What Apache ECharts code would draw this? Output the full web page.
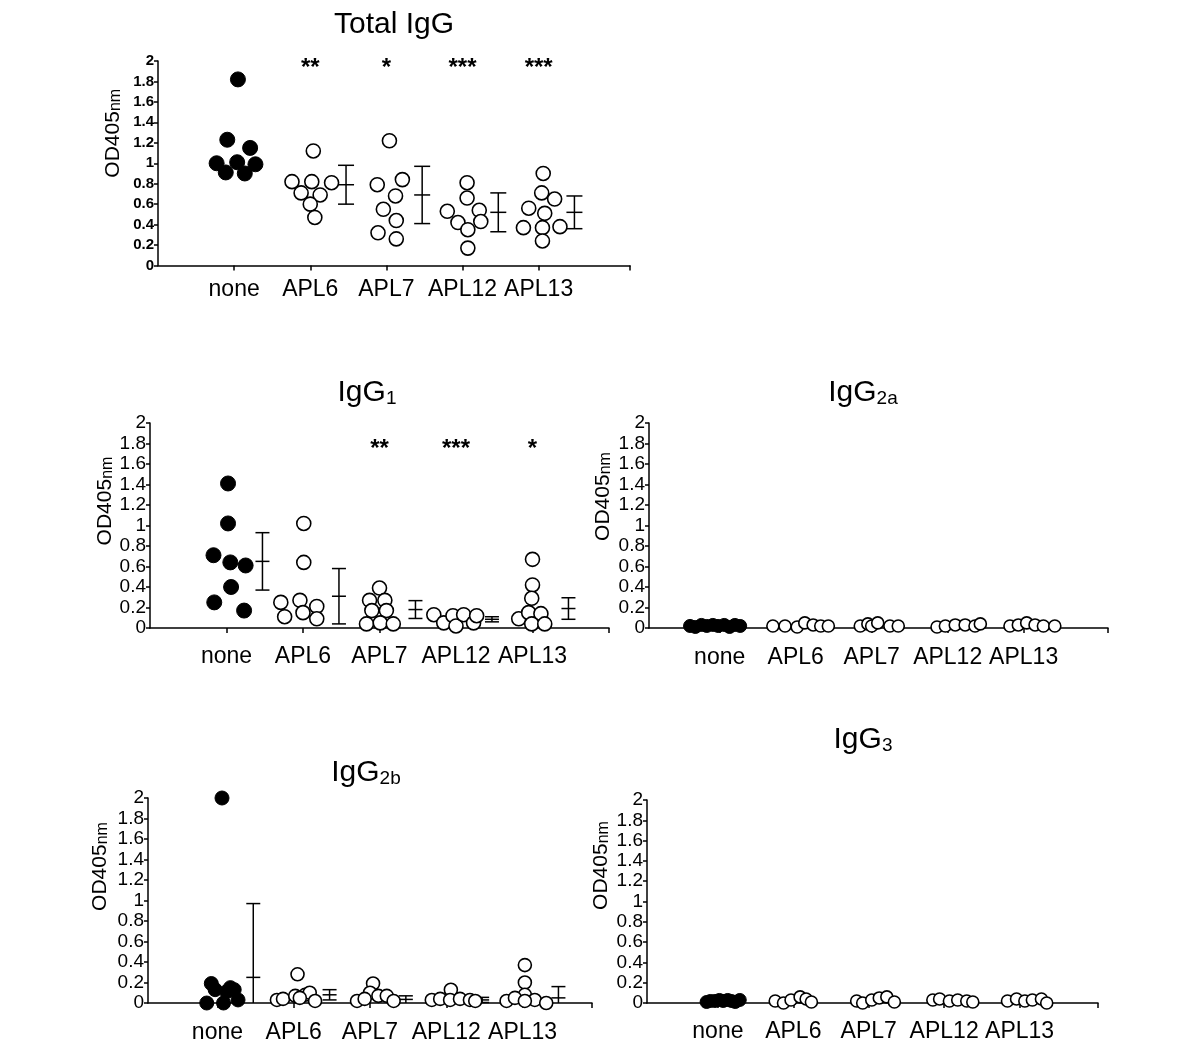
<!DOCTYPE html>
<html>
<head>
<meta charset="utf-8">
<title>IgG responses</title>
<script src="https://cdn.jsdelivr.net/npm/echarts@6/dist/echarts.min.js"></script>
<style>
  html, body { margin: 0; padding: 0; background: #fff; }
  #chart-panel { width: 1200px; height: 1050px; }
</style>
</head>
<body>
<div id="chart-panel"></div>
<script>
const categories = ["none", "APL6", "APL7", "APL12", "APL13"]

// OD405 per mouse, one inner array per group (none, APL6, APL7, APL12, APL13)
// jitter = horizontal spread of the dots inside a group, in category units
const totalValues = [
  [1.82, 1.23, 1.15, 1.0, 1.01, 0.99, 0.91, 0.9],
  [1.12, 0.82, 0.82, 0.81, 0.71, 0.69, 0.6, 0.47],
  [1.22, 0.79, 0.84, 0.68, 0.55, 0.44, 0.32, 0.26],
  [0.81, 0.66, 0.53, 0.54, 0.42, 0.43, 0.35, 0.17],
  [0.9, 0.71, 0.65, 0.56, 0.51, 0.37, 0.37, 0.38, 0.24]
]
const totalJitter = [
  [0.05, -0.09, 0.21, -0.23, 0.04, 0.28, -0.11, 0.14],
  [0.04, -0.24, 0.02, 0.28, -0.12, 0.13, 0.0, 0.06],
  [0.04, -0.12, 0.21, 0.12, -0.04, 0.13, -0.11, 0.13],
  [0.06, 0.06, -0.2, 0.22, -0.06, 0.24, 0.07, 0.07],
  [0.06, 0.04, 0.21, -0.13, 0.08, -0.2, 0.05, 0.28, 0.05]
]
const totalMean = [null, 0.79, 0.69, 0.52, 0.52]
const totalSd = [null, 0.19, 0.28, 0.19, 0.16]
const totalStars = ["", "**", "*", "***", "***"]

const igg1Values = [
  [1.41, 1.02, 0.71, 0.64, 0.61, 0.4, 0.25, 0.17],
  [1.02, 0.64, 0.25, 0.27, 0.11, 0.15, 0.21, 0.09],
  [0.39, 0.27, 0.27, 0.17, 0.17, 0.04, 0.05, 0.04],
  [0.13, 0.05, 0.12, 0.02, 0.13, 0.05, 0.12],
  [0.67, 0.42, 0.29, 0.09, 0.15, 0.14, 0.04, 0.04]
]
const igg1Jitter = [
  [0.02, 0.02, -0.17, 0.05, 0.25, 0.06, -0.16, 0.23],
  [0.01, 0.01, -0.29, -0.04, -0.24, 0.0, 0.18, 0.18],
  [0.0, -0.13, 0.07, -0.1, 0.09, -0.17, 0.01, 0.18],
  [-0.29, -0.16, -0.04, 0.0, 0.1, 0.23, 0.27],
  [0.0, 0.0, -0.01, -0.18, -0.05, 0.11, -0.01, 0.16]
]
const igg1Mean = [0.65, 0.31, 0.18, 0.085, 0.19]
const igg1Sd = [0.28, 0.27, 0.087, 0.025, 0.105]
const igg1Stars = ["", "", "**", "***", "*"]

const igg2aValues = [
  [0.02, 0.01, 0.03, 0.02, 0.03, 0.02, 0.03, 0.01, 0.03, 0.02],
  [0.02, 0.02, 0.01, 0.05, 0.03, 0.02, 0.02],
  [0.02, 0.04, 0.02, 0.05, 0.02, 0.02],
  [0.01, 0.02, 0.03, 0.03, 0.02, 0.04],
  [0.02, 0.03, 0.05, 0.03, 0.02, 0.02]
]
const igg2aJitter = [
  [-0.39, -0.32, -0.24, -0.17, -0.09, -0.02, 0.06, 0.13, 0.2, 0.27],
  [-0.3, -0.14, 0.02, 0.12, 0.23, 0.33, 0.43],
  [-0.15, -0.05, 0.0, 0.08, 0.24, 0.35],
  [-0.14, -0.03, 0.1, 0.23, 0.36, 0.43],
  [-0.18, -0.07, 0.04, 0.15, 0.26, 0.41]
]

const igg2bValues = [
  [2.0, 0.19, 0.13, 0.11, 0.13, 0.0, 0.0, 0.03, 0.15],
  [0.28, 0.03, 0.04, 0.07, 0.08, 0.1, 0.02, 0.05],
  [0.19, 0.1, 0.02, 0.04, 0.07, 0.07, 0.02],
  [0.03, 0.04, 0.13, 0.03, 0.04, 0.03, 0.02],
  [0.37, 0.2, 0.08, 0.02, 0.05, 0.03, 0.0, 0.02]
]
const igg2bJitter = [
  [0.06, -0.08, -0.03, 0.12, 0.22, -0.14, 0.08, 0.27, 0.17],
  [0.05, -0.22, -0.14, 0.02, 0.15, 0.21, 0.28, 0.08],
  [0.04, 0.0, -0.17, -0.07, 0.11, 0.22, 0.31],
  [-0.19, -0.08, 0.06, 0.05, 0.18, 0.31, 0.38],
  [0.03, 0.03, 0.03, -0.21, -0.1, 0.16, 0.31, 0.03]
]
const igg2bMean = [0.25, 0.08, 0.035, 0.03, 0.05]
const igg2bSd = [0.72, 0.05, 0.035, 0.025, 0.11]

const igg3Values = [
  [0.01, 0.02, 0.02, 0.03, 0.02, 0.03, 0.02, 0.01, 0.03],
  [0.02, 0.0, 0.03, 0.06, 0.04, 0.01],
  [0.02, 0.0, 0.03, 0.05, 0.06, 0.01],
  [0.03, 0.04, 0.02, 0.03, 0.02, 0.01],
  [0.02, 0.04, 0.02, 0.03, 0.04, 0.0]
]
const igg3Jitter = [
  [-0.15, -0.1, -0.04, 0.02, 0.07, 0.13, 0.18, 0.23, 0.29],
  [-0.24, -0.13, -0.03, 0.09, 0.17, 0.24],
  [-0.16, -0.08, 0.04, 0.14, 0.24, 0.34],
  [-0.15, -0.06, 0.07, 0.18, 0.3, 0.38],
  [-0.16, -0.04, 0.07, 0.17, 0.29, 0.36]
]

const font = "Liberation Sans, Arial, Helvetica, sans-serif"
const ink = "#000"
const barOffset = 0.47

const panels = [
  {
    title: "Total IgG", values: totalValues, jitter: totalJitter,
    mean: totalMean, sd: totalSd, stars: totalStars,
    grid: { left: 158, top: 61, width: 472, height: 204.5 },
    xMin: 0, xMax: 6.2, titleX: 394, titleY: 10,
    yLabelSize: 15, yLabelWeight: "bold", xLabelMargin: 13,
    nameGap: 34, nameShift: 60, dot: 14, cap: 8, starY: 1.93
  },
  {
    title: "IgG", sub: "1", values: igg1Values, jitter: igg1Jitter,
    mean: igg1Mean, sd: igg1Sd, stars: igg1Stars,
    grid: { left: 150, top: 423, width: 459, height: 205 },
    xMin: 0, xMax: 6, titleX: 367, titleY: 378,
    yLabelSize: 19, yLabelWeight: "normal", xLabelMargin: 17,
    nameGap: 33, nameShift: 49, dot: 14, cap: 7, starY: 1.74
  },
  {
    title: "IgG", sub: "2a", values: igg2aValues, jitter: igg2aJitter,
    grid: { left: 649, top: 423, width: 459, height: 205 },
    xMin: 0.07, xMax: 6.11, titleX: 863, titleY: 378,
    yLabelSize: 19, yLabelWeight: "normal", xLabelMargin: 18,
    nameGap: 35, nameShift: 58, dot: 12, cap: 7
  },
  {
    title: "IgG", sub: "2b", values: igg2bValues, jitter: igg2bJitter,
    mean: igg2bMean, sd: igg2bSd,
    grid: { left: 148, top: 798, width: 444, height: 205 },
    xMin: 0.09, xMax: 5.91, titleX: 366, titleY: 758,
    yLabelSize: 19, yLabelWeight: "normal", xLabelMargin: 18,
    nameGap: 37, nameShift: 68, dot: 13, cap: 7
  },
  {
    title: "IgG", sub: "3", values: igg3Values, jitter: igg3Jitter,
    grid: { left: 647, top: 800, width: 451, height: 203 },
    xMin: 0.06, xMax: 6.04, titleX: 863, titleY: 725,
    yLabelSize: 19, yLabelWeight: "normal", xLabelMargin: 17,
    nameGap: 35, nameShift: 72, dot: 12, cap: 7
  }
]

const lineStyle = { color: ink, width: 1.5 }

const errorBar = (cap) => (params, api) => {
  const x = api.value(0)
  const mean = api.value(1)
  const sd = api.value(2)
  const top = api.coord([x, mean + sd])
  const mid = api.coord([x, mean])
  const low = api.coord([x, Math.max(mean - sd, 0)])
  const style = { stroke: ink, lineWidth: 1.5, fill: null }
  const children = [
    { type: "line", shape: { x1: top[0], y1: top[1], x2: low[0], y2: low[1] }, style },
    { type: "line", shape: { x1: top[0] - cap, y1: top[1], x2: top[0] + cap, y2: top[1] }, style },
    { type: "line", shape: { x1: mid[0] - cap, y1: mid[1], x2: mid[0] + cap, y2: mid[1] }, style }
  ]
  if (mean - sd > 0) {
    children.push({ type: "line", shape: { x1: low[0] - cap, y1: low[1], x2: low[0] + cap, y2: low[1] }, style })
  }
  return { type: "group", children }
}

const grids = []
const xAxes = []
const yAxes = []
const titles = []
const series = []

panels.forEach((p, i) => {
  grids.push({ ...p.grid })

  titles.push({
    text: p.sub ? `{m|${p.title}}{s|${p.sub}}` : p.title,
    left: p.titleX,
    top: p.titleY,
    padding: 0,
    textAlign: "center",
    textVerticalAlign: "top",
    textStyle: {
      fontFamily: font,
      fontSize: 30,
      fontWeight: "normal",
      color: ink,
      rich: {
        m: { fontFamily: font, fontSize: 30, color: ink, verticalAlign: "bottom" },
        s: { fontFamily: font, fontSize: 19, color: ink, verticalAlign: "bottom" }
      }
    }
  })

  xAxes.push({
    gridIndex: i,
    type: "value",
    min: p.xMin,
    max: p.xMax,
    splitLine: { show: false },
    axisLine: { show: true, onZero: false, lineStyle },
    axisTick: { show: true, customValues: [1, 2, 3, 4, 5, p.xMax], length: 5, lineStyle },
    axisLabel: {
      customValues: [1, 2, 3, 4, 5],
      formatter: (v) => categories[Math.round(v) - 1],
      fontFamily: font,
      fontSize: 23,
      color: ink,
      margin: p.xLabelMargin
    }
  })

  yAxes.push({
    gridIndex: i,
    type: "value",
    min: 0,
    max: 2,
    interval: 0.2,
    name: "{a|OD405}{b|nm}",
    nameLocation: "middle",
    nameRotate: 90,
    nameGap: p.nameGap,
    nameTextStyle: {
      padding: [0, 0, 0, p.nameShift],
      rich: {
        a: { fontFamily: font, fontSize: 21, color: ink, verticalAlign: "bottom" },
        b: { fontFamily: font, fontSize: 16, color: ink, verticalAlign: "bottom" }
      }
    },
    splitLine: { show: false },
    axisLine: { show: true, onZero: false, lineStyle },
    axisTick: { show: true, length: 4, lineStyle },
    axisLabel: {
      fontFamily: font,
      fontSize: p.yLabelSize,
      fontWeight: p.yLabelWeight,
      color: ink,
      margin: 4
    }
  })

  // filled dots for the unimmunised group
  series.push({
    type: "scatter",
    xAxisIndex: i,
    yAxisIndex: i,
    symbolSize: p.dot + 1,
    itemStyle: { color: ink, borderColor: ink, borderWidth: 1, opacity: 1 },
    data: p.values[0].map((v, j) => [1 + p.jitter[0][j], v]),
    z: 3
  })

  // open circles for the APL groups
  const open = []
  for (let g = 1; g < categories.length; g++) {
    p.values[g].forEach((v, j) => open.push([g + 1 + p.jitter[g][j], v]))
  }
  series.push({
    type: "scatter",
    xAxisIndex: i,
    yAxisIndex: i,
    symbolSize: p.dot,
    itemStyle: { color: "#fff", borderColor: ink, borderWidth: 1.6, opacity: 1 },
    data: open,
    z: 3
  })

  if (p.mean) {
    const bars = []
    p.mean.forEach((m, g) => {
      if (m !== null) bars.push([g + 1 + barOffset, m, p.sd[g]])
    })
    series.push({
      type: "custom",
      xAxisIndex: i,
      yAxisIndex: i,
      renderItem: errorBar(p.cap),
      encode: { x: 0, y: 1 },
      data: bars,
      clip: false,
      z: 2
    })
  }

  if (p.stars) {
    const marks = []
    p.stars.forEach((s, g) => {
      if (s) marks.push({ name: s, value: [g + 1, p.starY] })
    })
    series.push({
      type: "scatter",
      xAxisIndex: i,
      yAxisIndex: i,
      symbolSize: 1,
      itemStyle: { color: "rgba(0,0,0,0)", opacity: 1 },
      label: {
        show: true,
        position: "inside",
        formatter: "{b}",
        fontFamily: font,
        fontSize: 24,
        fontWeight: "bold",
        color: ink,
        opacity: 1
      },
      data: marks,
      z: 4
    })
  }
})

const chart = echarts.init(document.getElementById("chart-panel"), null, { renderer: "canvas" })
chart.setOption({
  animation: false,
  backgroundColor: "#fff",
  title: titles,
  grid: grids,
  xAxis: xAxes,
  yAxis: yAxes,
  series
})
window.addEventListener("resize", () => chart.resize())
</script>
</body>
</html>
